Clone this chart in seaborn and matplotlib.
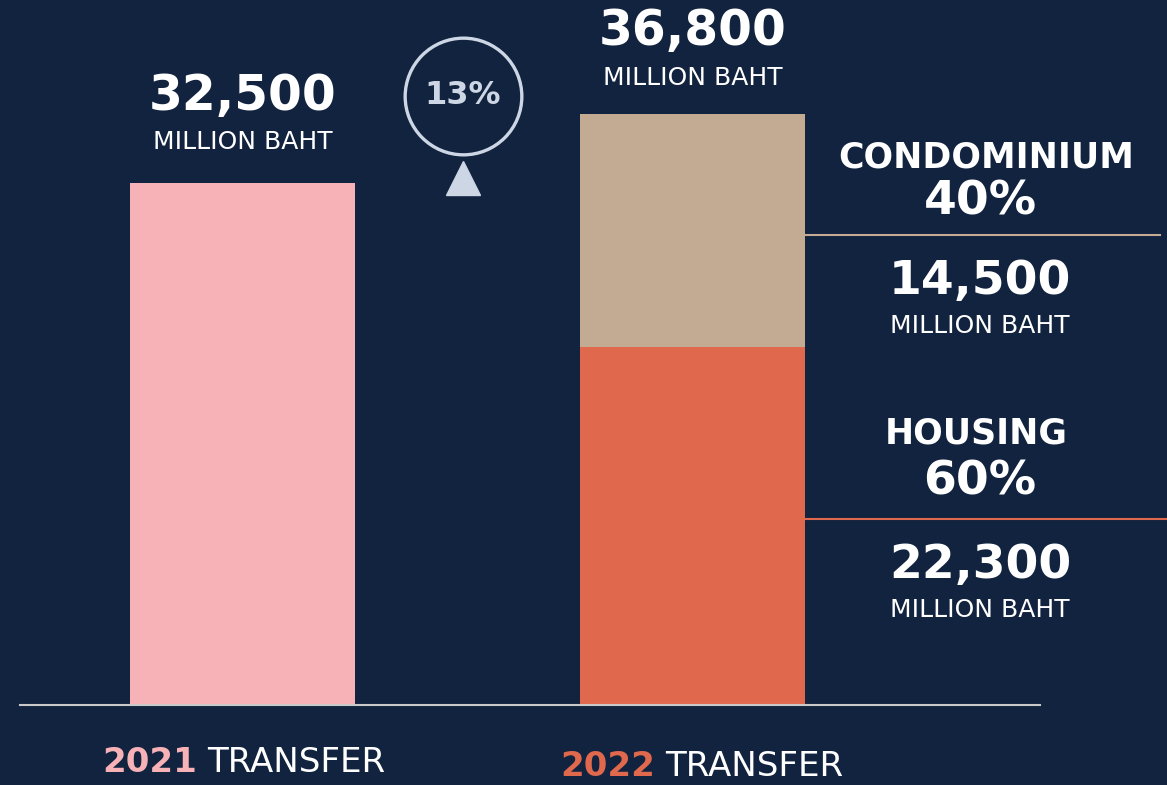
import matplotlib.pyplot as plt
import seaborn as sns

# data
years = ["2021", "2022"]
totals = [32500, 36800]
segments = ["CONDOMINIUM", "HOUSING"]
segment_values = [14500, 22300]
segment_shares = [40, 60]
growth_pct = 13
unit = "MILLION BAHT"

BG = "#12233f"
PINK = "#f7b2b7"
TAN = "#c3aa93"
CORAL = "#e0684d"
PALE = "#cdd6e4"

fig = plt.figure(figsize=(11.67, 7.85), dpi=100, facecolor=BG)
ax = fig.add_axes([0, 80 / 785, 1, 705 / 785])

# totals (2022 total shows as the condo part on top), then housing over it
sns.barplot(x=years, y=totals, hue=years, palette=[PINK, TAN], width=0.5,
            saturation=1, linewidth=0, errorbar=None, legend=False, ax=ax)
sns.barplot(x=years[1:], y=segment_values[1:], order=years, color=CORAL, width=0.5,
            saturation=1, linewidth=0, errorbar=None, ax=ax)

ax.set_xlim(-242.5 / 450, (1167 - 242.5) / 450)
ax.set_ylim(0, 43900)
ax.axis("off")

# baseline
ax.axhline(0, xmin=20 / 1167, xmax=1040 / 1167, color="#c9c9c9", lw=1.5, clip_on=False)

# totals on top of bars
big_off = [87, 83]
small_off = [41, 36]
for i, v in enumerate(totals):
    ax.annotate(f"{v:,}", (i, v), xytext=(0, big_off[i]), textcoords="offset pixels",
                ha="center", va="center", fontsize=35, fontweight="bold", color="white")
    ax.annotate(unit, (i, v), xytext=(0, small_off[i]), textcoords="offset pixels",
                ha="center", va="center", fontsize=18, color="white")

# bottom labels
year_colors = [PINK, CORAL]
split = [-40, -32]
low = [-58, -61]
for i, y in enumerate(years):
    ax.annotate(y, (i, 0), xytext=(split[i] - 5, low[i]), textcoords="offset pixels",
                ha="right", va="center", fontsize=24.5, fontweight="bold",
                color=year_colors[i], annotation_clip=False)
    ax.annotate("TRANSFER", (i, 0), xytext=(split[i] + 5, low[i]), textcoords="offset pixels",
                ha="left", va="center", fontsize=24.5, color="white", annotation_clip=False)

# growth badge
ax.plot([463 / 1167], [(705 - 96) / 705], marker="o", ms=84, mfc="none", mec=PALE,
        mew=2.4, transform=ax.transAxes, clip_on=False)
ax.text(463 / 1167, (705 - 96) / 705, f"{growth_pct}%", transform=ax.transAxes,
        ha="center", va="center", fontsize=23, fontweight="bold", color=PALE)
ax.plot([463 / 1167], [(705 - 178) / 705], marker="^", ms=25, color=PALE,
        transform=ax.transAxes, clip_on=False)

# right side segment labels
housing = segment_values[1]
condo = segment_values[0]
div_y = [housing + condo * 0.48, housing * 0.52]
div_col = [TAN, CORAL]
div_end = [1160 / 1167, 1.0]
name_off = [78, 85]
pct_off = [33, 37]
name_x = [986, 976]
tr = ax.get_yaxis_transform()
for k, name in enumerate(segments):
    y = div_y[k]
    lx = 980 / 1167
    ax.axhline(y, xmin=805 / 1167, xmax=div_end[k], color=div_col[k], lw=1.5)
    ax.annotate(name, (name_x[k] / 1167, y), xycoords=tr, xytext=(0, name_off[k]),
                textcoords="offset pixels", ha="center", va="center", fontsize=25,
                fontweight="bold", color="white")
    ax.annotate(f"{segment_shares[k]}%", (lx, y), xycoords=tr, xytext=(0, pct_off[k]),
                textcoords="offset pixels", ha="center", va="center", fontsize=34,
                fontweight="bold", color="white")
    ax.annotate(f"{segment_values[k]:,}", (lx, y), xycoords=tr, xytext=(0, -46.5),
                textcoords="offset pixels", ha="center", va="center", fontsize=34,
                fontweight="bold", color="white")
    ax.annotate(unit, (lx, y), xycoords=tr, xytext=(0, -91), textcoords="offset pixels",
                ha="center", va="center", fontsize=18, color="white")

fig.savefig("out.png", dpi=100, facecolor=BG)
